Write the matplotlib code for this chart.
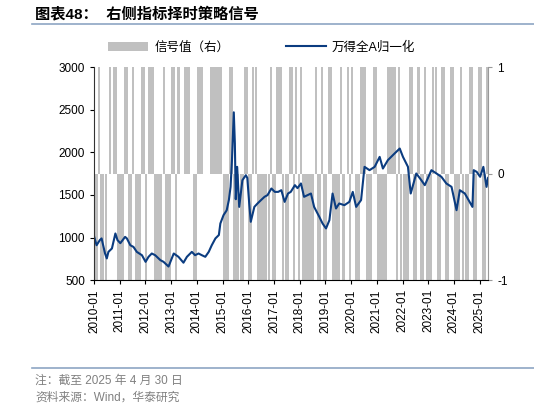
import numpy as np
import pandas as pd
import matplotlib
matplotlib.use('Agg')
import matplotlib.pyplot as plt
import matplotlib.dates as mdates

plt.rcParams['font.family'] = ['Liberation Sans', 'Noto Sans CJK SC']
plt.rcParams['axes.unicode_minus'] = False

# 万得全A归一化
line_dates = ['2010-01-04', '2010-02-07', '2010-03-25', '2010-04-19', '2010-06-07', '2010-07-02',
              '2010-07-25', '2010-09-13', '2010-11-01', '2010-12-01', '2011-01-10', '2011-03-19',
              '2011-04-13', '2011-06-01', '2011-07-16', '2011-09-01', '2011-11-13', '2012-01-04',
              '2012-02-15', '2012-04-01', '2012-05-19', '2012-08-01', '2012-09-15', '2012-11-25',
              '2013-02-07', '2013-04-15', '2013-06-25', '2013-08-13', '2013-10-22', '2013-12-07',
              '2014-01-25', '2014-03-13', '2014-05-01', '2014-06-19', '2014-08-01', '2014-09-22',
              '2014-11-10', '2014-12-01', '2015-01-15', '2015-03-01', '2015-04-01', '2015-04-25',
              '2015-05-15', '2015-06-10', '2015-06-25', '2015-07-08', '2015-07-28', '2015-08-26',
              '2015-10-10', '2015-11-28', '2015-12-19', '2016-01-15', '2016-02-06', '2016-03-28',
              '2016-05-12', '2016-07-01', '2016-08-19', '2016-10-01', '2016-11-25', '2017-01-13',
              '2017-03-01', '2017-04-15', '2017-06-01', '2017-07-19', '2017-08-27', '2017-10-25',
              '2017-12-01', '2018-01-19', '2018-03-04', '2018-06-10', '2018-07-25', '2018-10-07',
              '2018-11-22', '2019-01-10', '2019-02-27', '2019-04-13', '2019-06-01', '2019-07-16',
              '2019-09-28', '2019-12-07', '2020-01-25', '2020-03-13', '2020-05-22', '2020-07-10',
              '2020-09-19', '2020-12-01', '2021-02-10', '2021-03-28', '2021-06-07', '2021-09-10',
              '2021-11-22', '2022-01-07', '2022-03-19', '2022-04-27', '2022-07-15', '2022-09-25',
              '2022-11-13', '2023-02-15', '2023-04-28', '2023-07-07', '2023-09-15', '2023-11-28',
              '2024-02-07', '2024-03-25', '2024-06-04', '2024-09-20', '2024-10-08', '2024-11-19',
              '2025-01-07', '2025-02-22', '2025-04-08', '2025-04-30']
line_values = [1009, 910, 970, 990, 813, 755,
               832, 872, 1048, 970, 934, 1008,
               990, 910, 890, 832, 793, 715,
               774, 813, 793, 735, 715, 660,
               813, 774, 705, 774, 832, 793,
               813, 793, 774, 832, 910, 990,
               1030, 1165, 1263, 1320, 1440, 1595,
               1909, 2470, 2108, 1450, 1830, 1360,
               1673, 1732, 1700, 1400, 1185, 1360,
               1400, 1440, 1478, 1498, 1576, 1536,
               1536, 1556, 1419, 1517, 1536, 1615,
               1580, 1635, 1478, 1517, 1360, 1243,
               1165, 1107, 1204, 1517, 1341, 1400,
               1380, 1419, 1536, 1360, 1440, 1830,
               1791, 1830, 1947, 1810, 1909, 1987,
               2045, 1947, 1830, 1517, 1752, 1673,
               1615, 1791, 1752, 1713, 1635, 1595,
               1321, 1556, 1517, 1360, 1791, 1771,
               1713, 1830, 1595, 1700]

# 信号值（右）, monthly from 2010-01
sig_start = '2010-01-01'
sig_months = 184
sig_up = [2, 7, 9, 10, 14, 15, 18, 22, 23, 25, 26, 27, 32, 36, 37, 39, 42, 43, 44,
          48, 49, 50, 54, 55, 56, 57, 58, 59, 63, 64, 70, 71, 74, 75, 82, 85, 86, 87,
          91, 92, 94, 96, 103, 106, 109, 110, 115, 118, 120, 124, 125, 126, 130, 131,
          137, 138, 139, 140, 142, 147, 148, 151, 154, 158, 159, 162, 163, 166, 167,
          171, 175, 176, 179, 180, 183]
sig_zero = [6, 8, 40, 41, 45, 51, 52, 53, 117, 121]

signal = np.full(sig_months, -1)
signal[sig_up] = 1
signal[sig_zero] = 0
sig_dates = pd.date_range(sig_start, periods=sig_months, freq='MS')

fig = plt.figure(figsize=(5.34, 4.12), dpi=100)
ax1 = fig.add_axes([0.176, 0.320, 0.738, 0.517])
ax2 = ax1.twinx()

ax2.bar(sig_dates, signal, width=29, align='edge', color='#C0C0C0', linewidth=0,
        label='信号值（右）')
ax1.plot(pd.to_datetime(line_dates), line_values, color='#0B3C80', lw=1.5,
         label='万得全A归一化')

ax1.set_zorder(ax2.get_zorder() + 1)
ax1.patch.set_visible(False)

ax1.set_xlim(pd.Timestamp('2010-01-01'), pd.Timestamp('2025-04-30'))
ax1.set_ylim(500, 3000)
ax1.set_yticks(range(500, 3001, 500))
ax2.set_ylim(-1, 1)
ax2.set_yticks([-1, 0, 1])

ax1.xaxis.set_major_locator(mdates.YearLocator())
ax1.xaxis.set_major_formatter(mdates.DateFormatter('%Y-%m'))
plt.setp(ax1.get_xticklabels(), rotation=90)

for ax in (ax1, ax2):
    ax.spines['top'].set_visible(False)
    ax.tick_params(labelsize=8.5, length=3, width=0.8, direction='out')
ax1.spines['right'].set_visible(False)
ax2.spines['left'].set_visible(False)
ax2.spines['bottom'].set_visible(False)
ax2.spines['right'].set_color('#999999')
ax1.spines['left'].set_color('#333333')
ax2.tick_params(axis='y', colors='black', length=3)
ax2.tick_params(axis='y', color='#999999')

h2, l2 = ax2.get_legend_handles_labels()
h1, l1 = ax1.get_legend_handles_labels()
fig.legend(h2 + h1, l2 + l1, loc='center', bbox_to_anchor=(0.49, 0.885), ncol=2,
           frameon=False, fontsize=9, handlelength=3.2, columnspacing=4.5, handletextpad=0.5)

fig.text(0.066, 0.965, '图表48：  右侧指标择时策略信号', fontsize=11, fontweight='bold',
         va='center', ha='left')
fig.add_artist(plt.Line2D([0.06, 1.0], [0.942, 0.942], color='#8DA6C4', lw=1.2))
fig.add_artist(plt.Line2D([0.06, 1.0], [0.107, 0.107], color='#8DA6C4', lw=1.2))
fig.text(0.066, 0.077, '注：截至 2025 年 4 月 30 日', fontsize=8.5, color='#808080', va='center')
fig.text(0.066, 0.035, '资料来源：Wind，华泰研究', fontsize=8.5, color='#808080', va='center')

fig.savefig('out.png', dpi=100)
